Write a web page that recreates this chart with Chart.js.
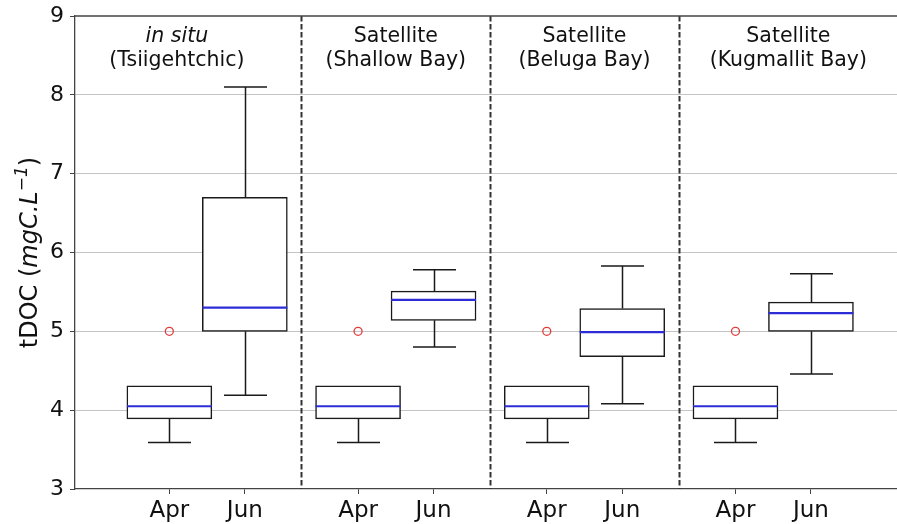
<!DOCTYPE html>
<html>
<head>
<meta charset="utf-8">
<script src="https://cdn.jsdelivr.net/npm/chart.js@4"></script>
<style>
  body { margin: 0; background: #fff; }
  #wrap { width: 897px; height: 524px; }
</style>
</head>
<body>
<div id="wrap"><canvas id="boxChart"></canvas></div>
<script>
// box positions along x, two months per site
var positions = [1, 2, 3.5, 4.5, 6, 7, 8.5, 9.5];
var months = ['Apr', 'Jun', 'Apr', 'Jun', 'Apr', 'Jun', 'Apr', 'Jun'];

// box statistics (tDOC, mgC/L)
var q1 = [3.89, 5.00, 3.89, 5.14, 3.89, 4.68, 3.89, 5.00];
var q3 = [4.31, 6.70, 4.31, 5.51, 4.31, 5.29, 4.31, 5.37];
var medians = [4.05, 5.30, 4.05, 5.40, 4.05, 4.99, 4.05, 5.23];
var whiskerLo = [3.59, 4.19, 3.59, 4.80, 3.59, 4.08, 3.59, 4.46];
var whiskerHi = [4.31, 8.10, 4.31, 5.78, 4.31, 5.83, 4.31, 5.73];
var outliers = [5.0, null, 5.0, null, 5.0, null, 5.0, null];

// site panels
var dividers = [2.75, 5.25, 7.75];
var panelX = [1.1, 4.0, 6.5, 9.2];
var panelTop = ['in situ', 'Satellite', 'Satellite', 'Satellite'];
var panelBottom = ['(Tsiigehtchic)', '(Shallow Bay)', '(Beluga Bay)', '(Kugmallit Bay)'];

var FONT = 'DejaVu Sans';

var boxData = positions.map(function(p, i) {
    return { x: p, y: [q1[i], q3[i]] };
});
var outlierData = [];
positions.forEach(function(p, i) {
    if (outliers[i] !== null) outlierData.push({ x: p, y: outliers[i] });
});

// whiskers, caps, medians, panel dividers, titles and the y label
var boxDecor = {
    id: 'boxDecor',
    beforeDatasetsDraw: function(chart) {
        var ctx = chart.ctx, area = chart.chartArea, xs = chart.scales.x;
        ctx.save();
        ctx.strokeStyle = '#333';
        ctx.lineWidth = 2;
        ctx.setLineDash([5.5, 2.5]);
        dividers.forEach(function(d) {
            var px = Math.round(xs.getPixelForValue(d)) + 0.5;
            ctx.beginPath();
            ctx.moveTo(px, area.top);
            ctx.lineTo(px, area.bottom);
            ctx.stroke();
        });
        ctx.restore();
    },
    afterDatasetsDraw: function(chart) {
        var ctx = chart.ctx, area = chart.chartArea;
        var xs = chart.scales.x, ys = chart.scales.y;
        var cap = 21.5, half = 42.5;
        ctx.save();
        ctx.strokeStyle = '#1a1a1a';
        ctx.lineWidth = 1.5;
        positions.forEach(function(p, i) {
            var cx = Math.round(xs.getPixelForValue(p)) + 0.5;
            var yLo = ys.getPixelForValue(whiskerLo[i]);
            var yHi = ys.getPixelForValue(whiskerHi[i]);
            var yQ1 = ys.getPixelForValue(q1[i]);
            var yQ3 = ys.getPixelForValue(q3[i]);
            ctx.beginPath();
            ctx.moveTo(cx, yQ1); ctx.lineTo(cx, yLo);
            ctx.moveTo(cx - cap, yLo); ctx.lineTo(cx + cap, yLo);
            if (whiskerHi[i] > q3[i]) {
                ctx.moveTo(cx, yQ3); ctx.lineTo(cx, yHi);
                ctx.moveTo(cx - cap, yHi); ctx.lineTo(cx + cap, yHi);
            }
            ctx.stroke();
        });
        // medians
        ctx.strokeStyle = 'rgb(45,45,215)';
        ctx.lineWidth = 2.2;
        positions.forEach(function(p, i) {
            var cx = xs.getPixelForValue(p);
            var ym = ys.getPixelForValue(medians[i]);
            ctx.beginPath();
            ctx.moveTo(cx - half, ym);
            ctx.lineTo(cx + half, ym);
            ctx.stroke();
        });
        // top spine
        ctx.strokeStyle = '#444';
        ctx.lineWidth = 1.3;
        ctx.beginPath();
        ctx.moveTo(area.left, area.top);
        ctx.lineTo(area.right, area.top);
        ctx.stroke();

        // panel titles
        ctx.fillStyle = '#111';
        ctx.textAlign = 'center';
        ctx.textBaseline = 'alphabetic';
        panelX.forEach(function(v, i) {
            var px = xs.getPixelForValue(v);
            ctx.font = (i === 0 ? 'italic ' : '') + '20.5px "' + FONT + '"';
            ctx.fillText(panelTop[i], px, area.top + 26);
            ctx.font = '20.5px "' + FONT + '"';
            ctx.fillText(panelBottom[i], px, area.top + 50);
        });

        // y axis label with italic unit and superscript
        var parts = [
            { t: 'tDOC (', f: '24px "' + FONT + '"', dy: 0 },
            { t: 'mgC.L', f: 'italic 24px "' + FONT + '"', dy: 0 },
            { t: '\u22121', f: 'italic 17px "' + FONT + '"', dy: -10 },
            { t: ')', f: '24px "' + FONT + '"', dy: 0 }
        ];
        var total = 0;
        parts.forEach(function(pt) {
            ctx.font = pt.f;
            pt.w = ctx.measureText(pt.t).width;
            total += pt.w;
        });
        ctx.translate(37, (area.top + area.bottom) / 2);
        ctx.rotate(-Math.PI / 2);
        ctx.textAlign = 'left';
        var x0 = -total / 2;
        parts.forEach(function(pt) {
            ctx.font = pt.f;
            ctx.fillText(pt.t, x0, pt.dy);
            x0 += pt.w;
        });
        ctx.restore();
    }
};

var chartContainer = document.getElementById('boxChart').getContext('2d');

var boxChart = new Chart(chartContainer, {
    type: 'bar',
    data: {
        datasets: [{
            type: 'bar',
            data: boxData,
            backgroundColor: '#ffffff',
            borderColor: '#1a1a1a',
            borderWidth: 1.5,
            borderSkipped: false,
            barThickness: 85,
            grouped: false
        }, {
            type: 'scatter',
            data: outlierData,
            pointRadius: 4,
            pointBackgroundColor: 'rgba(0,0,0,0)',
            pointBorderColor: '#e23b3b',
            pointBorderWidth: 1.3
        }]
    },
    options: {
        responsive: true,
        maintainAspectRatio: false,
        animation: false,
        layout: {
            autoPadding: false,
            padding: { top: 16, right: 0, left: 0, bottom: 0 }
        },
        plugins: {
            legend: { display: false },
            tooltip: { enabled: false }
        },
        scales: {
            x: {
                type: 'linear',
                min: -0.25,
                max: 10.64,
                offset: false,
                afterBuildTicks: function(scale) {
                    scale.ticks = positions.map(function(v) { return { value: v }; });
                },
                afterFit: function(scale) {
                    scale.height = 35;
                    scale.paddingLeft = 0;
                    scale.paddingRight = 0;
                },
                ticks: {
                    autoSkip: false,
                    maxRotation: 0,
                    padding: 3,
                    color: '#111',
                    font: { family: FONT, size: 23 },
                    callback: function(v) { return months[positions.indexOf(v)]; }
                },
                grid: {
                    offset: false,
                    drawOnChartArea: false,
                    tickLength: 5,
                    tickColor: '#444'
                },
                border: { color: '#444', width: 1.3 }
            },
            y: {
                min: 3,
                max: 9,
                afterFit: function(scale) {
                    scale.width = 75;
                    scale.paddingTop = 0;
                    scale.paddingBottom = 0;
                },
                ticks: {
                    stepSize: 1,
                    padding: 6,
                    color: '#111',
                    font: { family: FONT, size: 22 }
                },
                grid: {
                    color: function(c) {
                        var v = c.tick && c.tick.value;
                        return (v === 3 || v === 9) ? 'rgba(0,0,0,0)' : '#c4c4c4';
                    },
                    lineWidth: 1,
                    tickLength: 5,
                    tickColor: '#444'
                },
                border: { color: '#444', width: 1.3 }
            }
        }
    },
    plugins: [boxDecor]
});
</script>
</body>
</html>
